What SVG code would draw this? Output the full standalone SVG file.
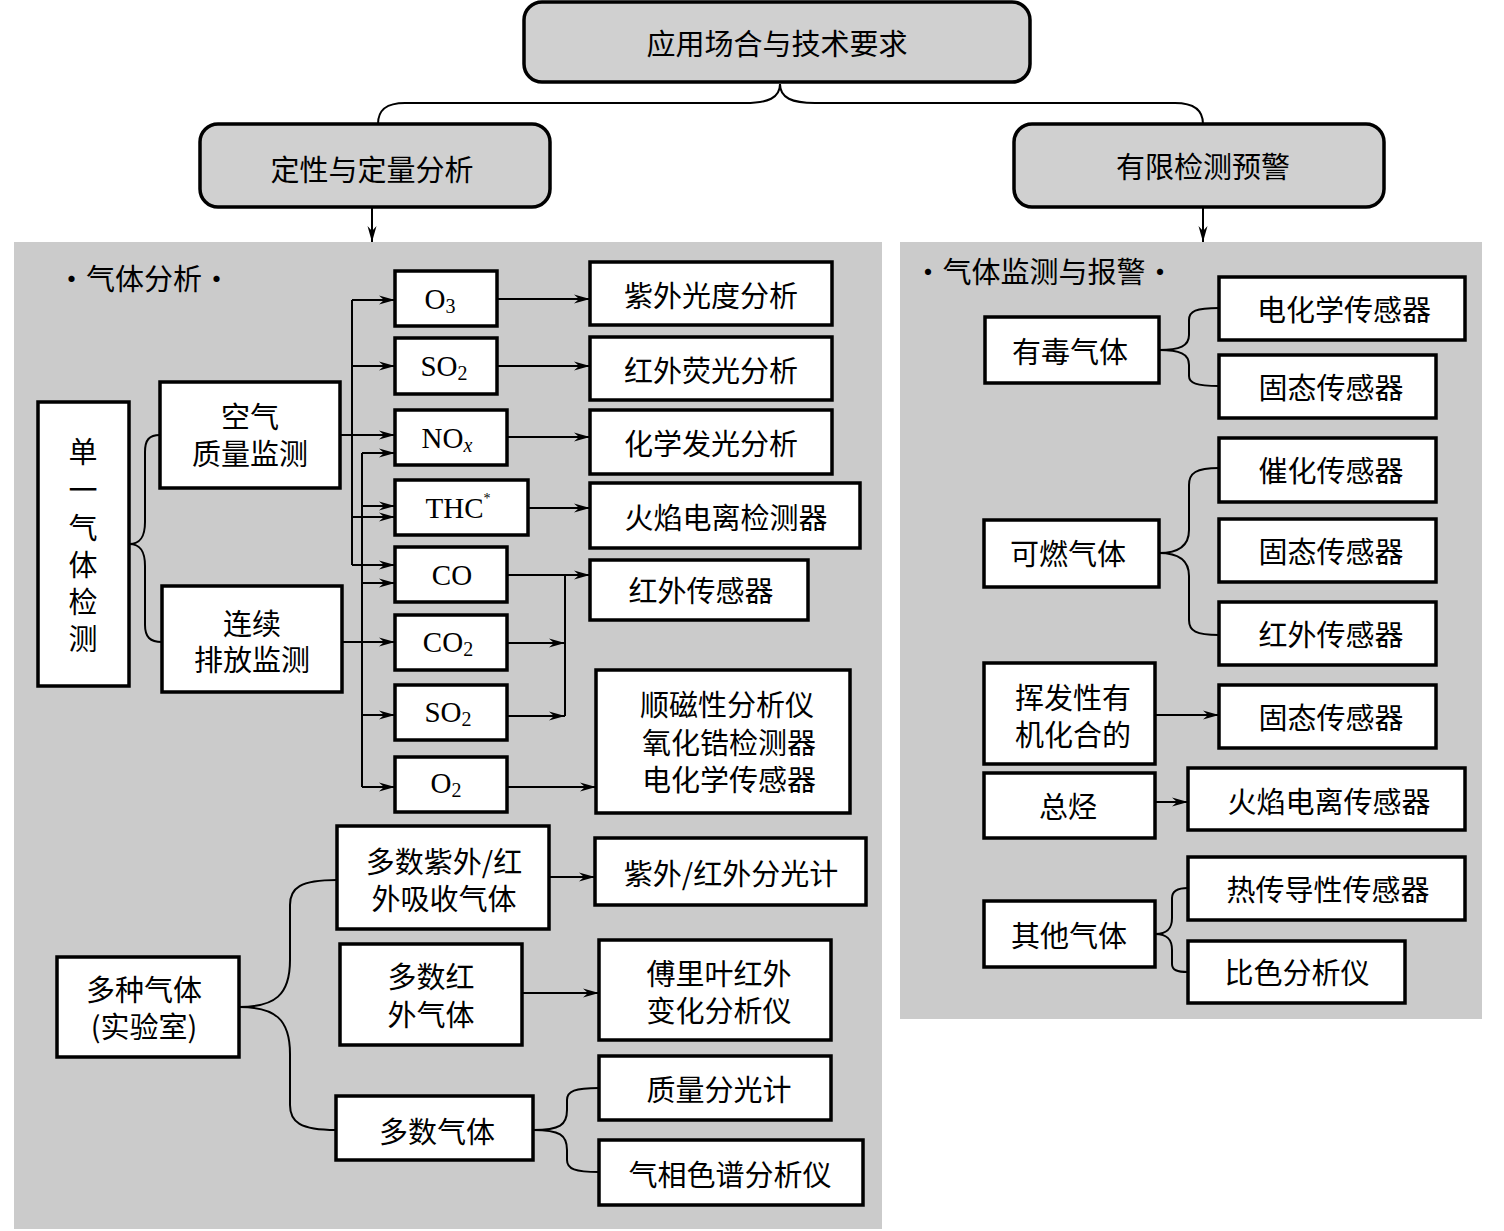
<svg xmlns="http://www.w3.org/2000/svg" width="1504" height="1231" viewBox="0 0 1504 1231">
<defs>
<marker id="ar" viewBox="0 0 16 10" refX="16" refY="5" markerWidth="16" markerHeight="10" markerUnits="userSpaceOnUse" orient="auto">
<path d="M0,0.5 L16,5 L0,9.5 L5,5 Z" fill="#000"/>
</marker>
</defs>
<style>
.panel{fill:#cbcbcb;stroke:none}
.rb{fill:#d0d0d0;stroke:#000;stroke-width:3.5}
.b{fill:#fff;stroke:#000;stroke-width:3.5}
.t{font-family:"Noto Sans CJK SC","Noto Sans",sans-serif;font-size:29px;fill:#000;text-anchor:middle;dominant-baseline:central}
.f{font-family:"Liberation Serif","Times New Roman",serif;font-size:29px;fill:#000;text-anchor:middle;dominant-baseline:central}
.c{fill:none;stroke:#000;stroke-width:2}
.a{fill:none;stroke:#000;stroke-width:2;marker-end:url(#ar)}
</style>
<rect width="1504" height="1231" fill="#fff"/>
<rect class="panel" x="14" y="242" width="868" height="987"/>
<rect class="panel" x="900" y="242" width="582" height="777"/>
<text class="t" x="144" y="277">·气体分析·</text>
<text class="t" x="1044" y="270">·气体监测与报警·</text>

<g id="connectors">
<path class="c" d="M780,84 C780,98 768,103 745,103 L405,103 C386,103 378,110 378,124"/>
<path class="c" d="M780,84 C780,98 792,103 815,103 L1175,103 C1194,103 1203,110 1203,124"/>
<path class="a" d="M372,207 L372,242"/>
<path class="a" d="M1203,207 L1203,242"/>
<path class="c" d="M129,544 C141,544 145,536 145,522 L145,452 C145,440 149,435 160,435"/>
<path class="c" d="M129,544 C141,544 145,552 145,566 L145,625 C145,637 150,642 162,642"/>
<path class="a" d="M340,435 L395,435"/>
<path class="c" d="M352,300 L352,565"/>
<path class="a" d="M352,300 L395,300"/>
<path class="a" d="M352,366 L395,366"/>
<path class="a" d="M352,517 L395,517"/>
<path class="a" d="M352,565 L395,565"/>
<path class="a" d="M342,642 L395,642"/>
<path class="c" d="M362,453 L362,787"/>
<path class="a" d="M362,453 L395,453"/>
<path class="a" d="M362,506 L395,506"/>
<path class="a" d="M362,583 L395,583"/>
<path class="a" d="M362,715 L395,715"/>
<path class="a" d="M362,787 L395,787"/>
<path class="a" d="M497,299 L590,299"/>
<path class="a" d="M497,366 L590,366"/>
<path class="a" d="M507,437 L590,437"/>
<path class="a" d="M528,508 L590,508"/>
<path class="a" d="M507,575 L590,575"/>
<path class="c" d="M565,575 L565,716"/>
<path class="a" d="M507,643 L565,643"/>
<path class="a" d="M507,716 L565,716"/>
<path class="a" d="M507,787 L596,787"/>
<path class="c" d="M239,1007 C275,1007 290,995 290,960 L290,905 C290,888 300,880 337,880"/>
<path class="c" d="M239,1007 C275,1007 290,1019 290,1054 L290,1105 C290,1122 300,1130 336,1130"/>
<path class="a" d="M549,877 L595,877"/>
<path class="a" d="M522,993 L599,993"/>
<path class="c" d="M533,1130 C560,1130 567,1125 567,1110 L567,1100 C567,1091 575,1088 599,1088"/>
<path class="c" d="M533,1130 C560,1130 567,1135 567,1150 L567,1160 C567,1169 575,1172 599,1172"/>
<path class="c" d="M1159,350 C1180,350 1189,346 1189,335 L1189,320 C1189,311 1196,308 1219,308"/>
<path class="c" d="M1159,350 C1180,350 1189,354 1189,365 L1189,376 C1189,383 1196,386 1219,386"/>
<path class="c" d="M1159,553 C1180,553 1189,545 1189,530 L1189,485 C1189,473 1196,468 1219,468"/>
<path class="c" d="M1159,553 C1180,553 1189,561 1189,576 L1189,620 C1189,631 1196,635 1219,635"/>
<path class="a" d="M1155,715 L1219,715"/>
<path class="a" d="M1155,802 L1188,802"/>
<path class="c" d="M1155,934 C1168,934 1172,928 1172,918 L1172,898 C1172,891 1177,888 1188,888"/>
<path class="c" d="M1155,934 C1168,934 1172,940 1172,950 L1172,964 C1172,970 1177,972 1188,972"/>
</g>

<g id="n-top"><rect class="rb" x="524" y="2" width="506" height="80" rx="18"/><text class="t" x="777" y="42">应用场合与技术要求</text></g>
<g id="n-qual"><rect class="rb" x="200" y="124" width="350" height="83" rx="18"/><text class="t" x="372" y="168">定性与定量分析</text></g>
<g id="n-warn"><rect class="rb" x="1014" y="124" width="370" height="83" rx="18"/><text class="t" x="1203" y="165">有限检测预警</text></g>

<g id="n-single"><rect class="b" x="38" y="402" width="91" height="284"/>
<text class="t" x="83" y="450">单<tspan x="83" dy="38">一</tspan><tspan x="83" dy="38">气</tspan><tspan x="83" dy="37">体</tspan><tspan x="83" dy="37">检</tspan><tspan x="83" dy="37">测</tspan></text></g>
<g id="n-air"><rect class="b" x="160" y="382" width="180" height="106"/><text class="t" x="250" y="415">空气<tspan x="250" dy="37">质量监测</tspan></text></g>
<g id="n-emis"><rect class="b" x="162" y="586" width="180" height="106"/><text class="t" x="252" y="622">连续<tspan x="252" dy="36">排放监测</tspan></text></g>

<g id="n-o3"><rect class="b" x="395" y="271" width="102" height="55"/><text class="f" x="440" y="299">O<tspan font-size="20" dy="7">3</tspan></text></g>
<g id="n-so2a"><rect class="b" x="395" y="338" width="102" height="56"/><text class="f" x="444" y="366">SO<tspan font-size="20" dy="7">2</tspan></text></g>
<g id="n-nox"><rect class="b" x="395" y="410" width="112" height="55"/><text class="f" x="447" y="438">NO<tspan font-size="20" font-style="italic" dy="7">x</tspan></text></g>
<g id="n-thc"><rect class="b" x="395" y="480" width="133" height="55"/><text class="f" x="458" y="508">THC<tspan font-size="14" dy="-10">*</tspan></text></g>
<g id="n-co"><rect class="b" x="395" y="547" width="112" height="55"/><text class="f" x="452" y="575">CO</text></g>
<g id="n-co2"><rect class="b" x="395" y="615" width="112" height="55"/><text class="f" x="448" y="642">CO<tspan font-size="20" dy="7">2</tspan></text></g>
<g id="n-so2b"><rect class="b" x="395" y="685" width="112" height="55"/><text class="f" x="448" y="712">SO<tspan font-size="20" dy="7">2</tspan></text></g>
<g id="n-o2"><rect class="b" x="395" y="757" width="112" height="55"/><text class="f" x="446" y="783">O<tspan font-size="20" dy="7">2</tspan></text></g>

<g id="n-uv"><rect class="b" x="590" y="262" width="242" height="63"/><text class="t" x="711" y="294">紫外光度分析</text></g>
<g id="n-irf"><rect class="b" x="590" y="337" width="242" height="63"/><text class="t" x="711" y="369">红外荧光分析</text></g>
<g id="n-chem"><rect class="b" x="590" y="410" width="242" height="64"/><text class="t" x="711" y="442">化学发光分析</text></g>
<g id="n-fid"><rect class="b" x="590" y="483" width="270" height="65"/><text class="t" x="726" y="516">火焰电离检测器</text></g>
<g id="n-irs"><rect class="b" x="590" y="560" width="218" height="60"/><text class="t" x="701" y="589">红外传感器</text></g>
<g id="n-para"><rect class="b" x="596" y="670" width="254" height="143"/><text class="t" x="727" y="703">顺磁性分析仪<tspan x="729" dy="38">氧化锆检测器</tspan><tspan x="729" dy="37">电化学传感器</tspan></text></g>

<g id="n-uvir"><rect class="b" x="337" y="826" width="212" height="103"/><text class="t" x="444" y="860">多数紫外/红<tspan x="444" dy="37">外吸收气体</tspan></text></g>
<g id="n-uvirspec"><rect class="b" x="595" y="838" width="271" height="67"/><text class="t" x="731" y="872">紫外/红外分光计</text></g>
<g id="n-multi"><rect class="b" x="57" y="957" width="182" height="100"/><text class="t" x="144" y="988">多种气体<tspan x="144" dy="37">(实验室)</tspan></text></g>
<g id="n-ir"><rect class="b" x="340" y="944" width="182" height="101"/><text class="t" x="431" y="975">多数红<tspan x="431" dy="38">外气体</tspan></text></g>
<g id="n-ftir"><rect class="b" x="599" y="940" width="232" height="100"/><text class="t" x="719" y="972">傅里叶红外<tspan x="719" dy="37">变化分析仪</tspan></text></g>
<g id="n-most"><rect class="b" x="336" y="1096" width="197" height="64"/><text class="t" x="437" y="1130">多数气体</text></g>
<g id="n-ms"><rect class="b" x="599" y="1056" width="232" height="64"/><text class="t" x="719" y="1088">质量分光计</text></g>
<g id="n-gc"><rect class="b" x="599" y="1140" width="264" height="65"/><text class="t" x="730" y="1173">气相色谱分析仪</text></g>

<g id="n-toxic"><rect class="b" x="985" y="317" width="174" height="66"/><text class="t" x="1070" y="350">有毒气体</text></g>
<g id="n-ec"><rect class="b" x="1219" y="277" width="246" height="63"/><text class="t" x="1344" y="308">电化学传感器</text></g>
<g id="n-ss1"><rect class="b" x="1219" y="355" width="217" height="63"/><text class="t" x="1331" y="386">固态传感器</text></g>
<g id="n-comb"><rect class="b" x="984" y="520" width="175" height="67"/><text class="t" x="1068" y="552">可燃气体</text></g>
<g id="n-cat"><rect class="b" x="1219" y="438" width="217" height="64"/><text class="t" x="1331" y="469">催化传感器</text></g>
<g id="n-ss2"><rect class="b" x="1219" y="519" width="217" height="63"/><text class="t" x="1331" y="550">固态传感器</text></g>
<g id="n-irs2"><rect class="b" x="1219" y="602" width="217" height="63"/><text class="t" x="1331" y="633">红外传感器</text></g>
<g id="n-voc"><rect class="b" x="984" y="663" width="171" height="101"/><text class="t" x="1073" y="696">挥发性有<tspan x="1073" dy="37">机化合的</tspan></text></g>
<g id="n-ss3"><rect class="b" x="1219" y="685" width="217" height="63"/><text class="t" x="1331" y="716">固态传感器</text></g>
<g id="n-thc2"><rect class="b" x="984" y="773" width="171" height="65"/><text class="t" x="1068" y="805">总烃</text></g>
<g id="n-fis"><rect class="b" x="1188" y="768" width="277" height="62"/><text class="t" x="1329" y="800">火焰电离传感器</text></g>
<g id="n-other"><rect class="b" x="984" y="901" width="171" height="66"/><text class="t" x="1069" y="934">其他气体</text></g>
<g id="n-tc"><rect class="b" x="1188" y="857" width="277" height="63"/><text class="t" x="1328" y="888">热传导性传感器</text></g>
<g id="n-color"><rect class="b" x="1188" y="941" width="217" height="62"/><text class="t" x="1297" y="971">比色分析仪</text></g>
</svg>
